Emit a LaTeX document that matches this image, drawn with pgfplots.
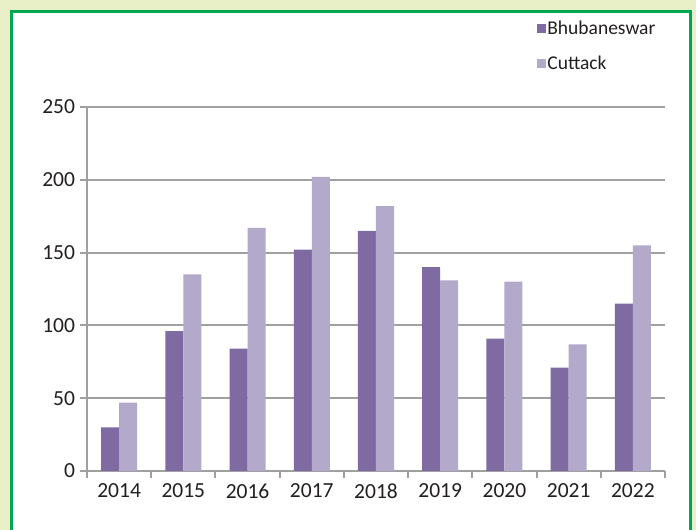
\documentclass[border=0pt]{standalone}
\usepackage{pgfplots}
\pgfplotsset{compat=1.18}
\usepackage{fontspec}
\setmainfont{Carlito}
\definecolor{outerbg}{RGB}{233,240,200}
\definecolor{frame}{RGB}{0,166,81}
\definecolor{bhu}{RGB}{127,106,162}
\definecolor{cut}{RGB}{179,170,203}
\definecolor{gridc}{RGB}{160,160,160}
\definecolor{txt}{RGB}{35,31,32}
\begin{document}
\begin{tikzpicture}[x=1pt,y=1pt]
\useasboundingbox (0,0) rectangle (696,530);
\fill[outerbg] (0,0) rectangle (696,530);
\fill[white] (11.5,0) rectangle (690.5,518.5);
\draw[frame, line width=3pt] (11.5,0) -- (11.5,518.5) -- (690.5,518.5) -- (690.5,0);
\begin{axis}[
  at={(87pt,59pt)}, anchor=south west,
  scale only axis, width=578pt, height=364pt,
  xmin=-0.5, xmax=8.5, ymin=0, ymax=250,
  ybar=0pt, bar width=18pt,
  axis x line*=bottom, axis y line*=left,
  axis line style={gridc, line width=2pt},
  ytick={0,50,100,150,200,250},
  ymajorgrids, major grid style={gridc, line width=2pt},
  xtick={0,...,8},
  xticklabels={2014,2015,2016,2017,2018,2019,2020,2021,2022},
  minor xtick={-0.5,0.5,...,8.5},
  major x tick style={draw=none},
  minor tick style={gridc, line width=2pt},
  major y tick style={gridc, line width=2pt},
  tick align=outside,
  major tick length=7pt, minor tick length=7pt,
  tick label style={font=\fontsize{21.5}{24}\selectfont, text=txt},
  /pgf/number format/assume math mode=true,
  yticklabel style={xshift=-1.5pt},
  xticklabel style={yshift=-2pt},
  legend style={at={(0.778,1.242)}, anchor=north west, draw=none, fill=none,
    font=\fontsize{19.5}{22}\selectfont, text=txt, row sep=17pt,
    inner sep=0pt, nodes={inner sep=1.5pt}},
  legend cell align=left,
  legend image code/.code={\fill[#1] (0pt,-4.5pt) rectangle (9pt,4.5pt);},
  clip=false,
]
\addplot[fill=bhu, draw=none] coordinates {(0,30) (1,96) (2,84) (3,152) (4,165) (5,140) (6,91) (7,71) (8,115)};
\addplot[fill=cut, draw=none] coordinates {(0,47) (1,135) (2,167) (3,202) (4,182) (5,131) (6,130) (7,87) (8,155)};
\legend{Bhubaneswar, Cuttack}
\end{axis}
\end{tikzpicture}
\end{document}
